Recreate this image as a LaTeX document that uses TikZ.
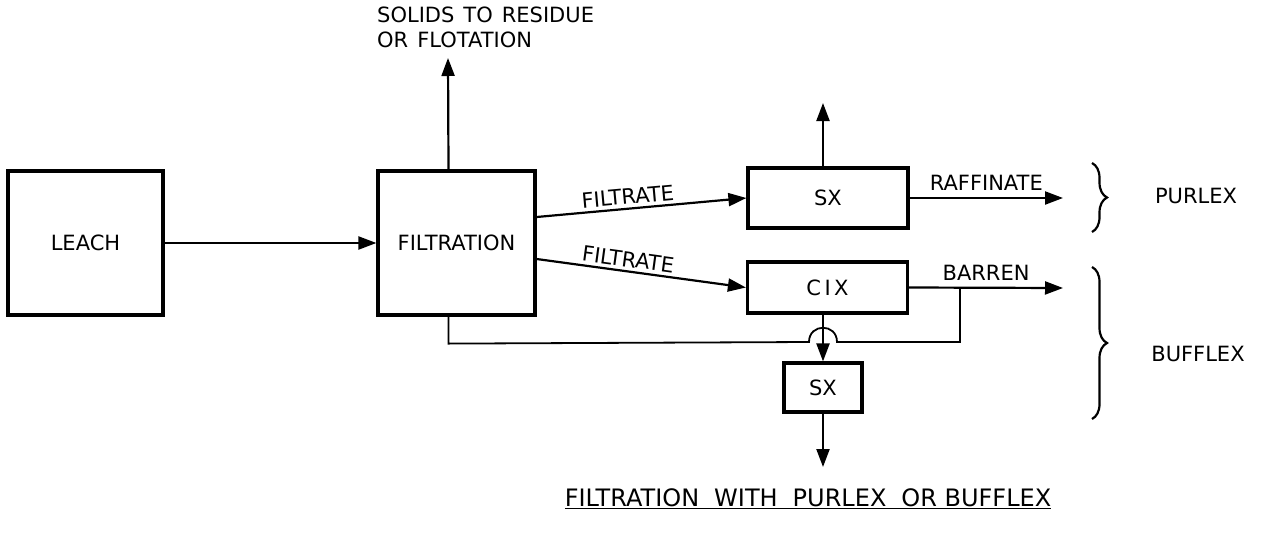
\documentclass[tikz,border=0pt]{standalone}
\usepackage{fontspec}
\setmainfont{DejaVu Sans}
\usetikzlibrary{arrows.meta,positioning,calc,decorations.pathreplacing}

\begin{document}
\begin{tikzpicture}[x=1pt,y=-1pt,
    box/.style={draw,line width=3.2pt,inner sep=0pt,font=\fontsize{21}{25}\selectfont},
    flow/.style={line width=2.2pt,-{Triangle[length=18pt,width=13pt]}},
    lbl/.style={font=\fontsize{21}{25}\selectfont},
    curly/.style={line width=2.2pt,decorate,decoration={brace,amplitude=15pt}}]
  \useasboundingbox (0,0) rectangle (1261,533);
  % process boxes
  \node[box,minimum width=155pt,minimum height=144pt] (leach) at (85.5,243) {LEACH};
  \node[box,minimum width=157pt,minimum height=144pt] (filt) at (456.5,243) {FILTRATION};
  \node[box,minimum width=160pt,minimum height=60pt] (sxa) at (828,198) {SX};
  \node[box,minimum width=160pt,minimum height=51pt] (cix) at (827.5,287.5) {C\,I\,X};
  \node[box,minimum width=78pt,minimum height=49pt] (sxb) at (823,387.5) {SX};
  % free ends
  \coordinate (solids) at (448,58);
  \coordinate (sxtop) at (823,103);
  \coordinate (raff) at (1063,198);
  \coordinate (barr) at (1063,288);
  \coordinate (sxout) at (823,467);
  \coordinate (tee) at (960,288);
  \node[lbl,align=left,anchor=north west,inner sep=0pt] (sol) at (377,7) {SOLIDS\hspace{9pt}TO\hspace{9pt}RESIDUE\\OR\hspace{9pt}FLOTATION};
  % main flows
  \draw[flow] (leach) -- (filt);
  \draw[flow] ([xshift=-8pt]filt.north) -- (solids);
  \draw[flow] ([yshift=26pt]filt.east) -- node[lbl,sloped,above,pos=0.44] {FILTRATE} (sxa.west);
  \draw[flow] ([yshift=-16pt]filt.east) -- node[lbl,sloped,above,pos=0.43] {FILTRATE} (cix.west);
  \draw[flow] ([xshift=-5pt]sxa.north) -- (sxtop);
  \draw[flow] (sxa.east) -- node[lbl,above=3pt] {RAFFINATE} (raff);
  \draw[flow] (cix.east) -- node[lbl,above=3pt] {BARREN} (barr);
  \draw[flow] (cix.south -| sxb) -- (sxb.north);
  \draw[flow] (sxb.south) -- (sxout);
  % bypass with hop over the CIX outlet
  \draw[line width=1.8pt] ([xshift=-8pt]filt.south) -- ++(0,27) -- (809,342)
    .. controls (809,323) and (837,323) .. (837,342) -- (960,342) -- (tee);
  % braces
  \draw[curly] (1092,163) -- (1092,232);
  \draw[curly] (1092,267) -- (1092,419);
  \node[lbl] (purlex) at (1196,196) {PURLEX};
  \node[lbl] (bufflex) at (1198,354) {BUFFLEX};
  % caption
  \node[font=\fontsize{24}{28}\selectfont] (title) at (808,499) {\underline{FILTRATION\hspace{15pt}WITH\hspace{15pt}PURLEX\hspace{15pt}OR BUFFLEX}};
\end{tikzpicture}
\end{document}
